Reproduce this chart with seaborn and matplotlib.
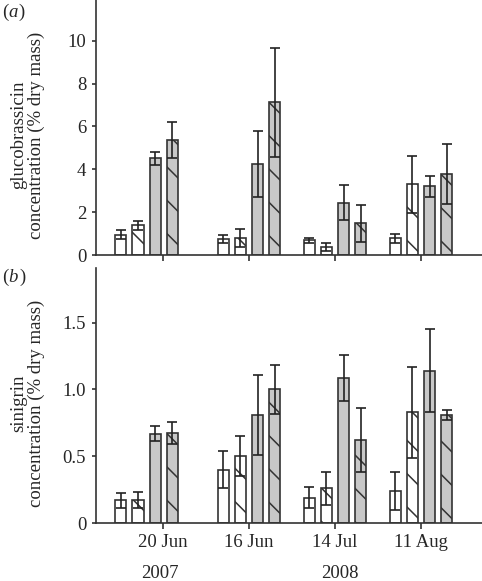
import matplotlib
matplotlib.use('Agg')

import matplotlib.pyplot as plt
import seaborn as sns
import pandas as pd

# sampling dates (first one is 2007, the rest 2008)
dates = ['20 Jun', '16 Jun', '14 Jul', '11 Aug']
date_pos = [-0.19, 1, 2, 3]
tick_pos = [0, 1, 2, 3]
treatments = ['T1', 'T2', 'T3', 'T4']

# glucobrassicin, one row per treatment, one value per date
gluco_mean = [[0.95, 0.75, 0.68, 0.78],
              [1.38, 0.80, 0.38, 3.30],
              [4.52, 4.25, 2.45, 3.20],
              [5.37, 7.12, 1.48, 3.78]]
gluco_se = [[0.20, 0.20, 0.10, 0.20],
            [0.20, 0.43, 0.18, 1.34],
            [0.30, 1.53, 0.80, 0.50],
            [0.82, 2.54, 0.86, 1.40]]

# sinigrin
sini_mean = [[0.17, 0.40, 0.19, 0.24],
             [0.175, 0.50, 0.26, 0.83],
             [0.67, 0.81, 1.085, 1.14],
             [0.675, 1.00, 0.62, 0.81]]
sini_se = [[0.055, 0.14, 0.08, 0.14],
           [0.06, 0.15, 0.125, 0.34],
           [0.055, 0.30, 0.17, 0.31],
           [0.08, 0.18, 0.24, 0.035]]

sns.set_style('ticks')
plt.rcParams['font.family'] = ['Liberation Serif', 'DejaVu Serif']
plt.rcParams['font.size'] = 13.5
plt.rcParams['hatch.linewidth'] = 1.1

palette = {'T1': 'white', 'T2': 'white', 'T3': '#c8c8c8', 'T4': '#c8c8c8'}
EDGE = '#333333'


def make_df(means):
    rows = []
    for t, vals in zip(treatments, means):
        for p, v in zip(date_pos, vals):
            rows.append({'pos': p, 'treatment': t, 'value': v})
    return pd.DataFrame(rows)


def draw_panel(ax, means, ses, ylim, yticks, yticklabels, ylabel, show_xlabels):
    df = make_df(means)
    sns.barplot(data=df, x='pos', y='value', hue='treatment', hue_order=treatments,
                native_scale=True, palette=palette, gap=0.35, errorbar=None,
                edgecolor=EDGE, linewidth=1.2, legend=False, ax=ax)
    bars = sorted(ax.patches, key=lambda b: b.get_x())
    for i, bar in enumerate(bars):
        g, h = divmod(i, 4)
        if h in (1, 3):
            bar.set_hatch('\\')
        xc = bar.get_x() + bar.get_width() / 2
        ax.errorbar(xc, bar.get_height(), yerr=ses[h][g], color='#222222',
                    elinewidth=1.2, capsize=3.3, capthick=1.2, fmt='none', zorder=5)
    ax.set_xlim(-0.78, 3.71)
    ax.set_ylim(*ylim)
    ax.set_yticks(yticks)
    ax.set_yticklabels(yticklabels)
    ax.set_xticks(tick_pos)
    if show_xlabels:
        ax.set_xticklabels(dates)
    else:
        ax.set_xticklabels([])
    ax.set_xlabel('')
    ax.set_ylabel(ylabel, ha='center', va='center', linespacing=1.05)
    ax.yaxis.set_label_coords(-0.176, 0.47)
    sns.despine(ax=ax)
    for s in ('left', 'bottom'):
        ax.spines[s].set_color('#333333')
        ax.spines[s].set_linewidth(1.2)
    ax.tick_params(axis='y', direction='out', length=3, width=1.2, color='#333333', pad=4)
    ax.tick_params(axis='x', direction='out', length=4, width=1.2, color='#333333', pad=4)


fig = plt.figure(figsize=(4.82, 5.81), dpi=100)
ax1 = fig.add_axes([0.199, 0.561, 0.801, 0.439])
ax2 = fig.add_axes([0.199, 0.0998, 0.801, 0.439])

draw_panel(ax1, gluco_mean, gluco_se, (0, 11.9), [0, 2, 4, 6, 8, 10],
           ['0', '2', '4', '6', '8', '10'],
           'glucobrassicin\nconcentration (% dry mass)', False)
draw_panel(ax2, sini_mean, sini_se, (0, 1.91), [0, 0.5, 1.0, 1.5],
           ['0', '0.5', '1.0', '1.5'],
           'sinigrin\nconcentration (% dry mass)', True)

# panel letters
fig.text(0.004, 0.978, '(', ha='left', va='center')
fig.text(0.018, 0.978, 'a', ha='left', va='center', style='italic')
fig.text(0.038, 0.978, ')', ha='left', va='center')
fig.text(0.004, 0.522, '(', ha='left', va='center')
fig.text(0.018, 0.522, 'b', ha='left', va='center', style='italic')
fig.text(0.040, 0.522, ')', ha='left', va='center')

fig.text(160 / 482, 1 - 573 / 581, '2007', ha='center', va='center')
fig.text(340 / 482, 1 - 573 / 581, '2008', ha='center', va='center')

fig.savefig('out.png', dpi=100)
